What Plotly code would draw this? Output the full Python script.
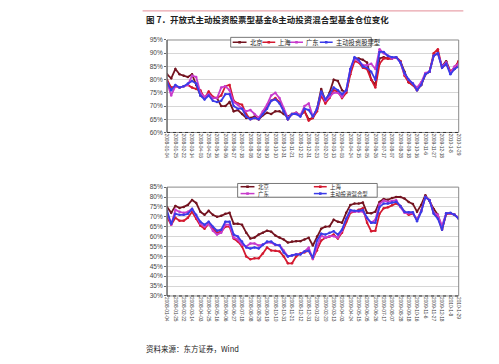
import plotly.graph_objects as go

# ---------------- data ----------------
tick_labels = ["2008-01-04","2008-01-25","2008-02-22","2008-03-14","2008-04-03","2008-04-25",
               "2008-05-16","2008-06-06","2008-06-27","2008-07-18","2008-08-08","2008-08-29",
               "2008-09-19","2008-10-10","2008-10-31","2008-11-21","2008-12-12","2008-12-31",
               "2009-01-23","2009-02-20","2009-03-13","2009-04-03","2009-04-24","2009-05-15",
               "2009-06-05","2009-06-26","2009-07-17","2009-08-07","2009-08-28","2009-09-18",
               "2009-10-16","2009-11-6","2009-11-27","2009-12-18","2010-1-8","2010-1-29"]

series_names_top = ["北京", "上海", "广东", "主动投资股票型"]
series_names_bot = ["北京", "上海", "广东", "主动投资混合型"]

top_beijing = [82,80.5,84,82,81.5,81,82,78,74,73,
               75,73,73,70,70,71.5,68,68.5,67,65.5,
               65.5,66,65,66.5,67.5,67,68,68,67,66,
               67,67.5,66.5,68,65,65.5,69,76.5,72,75,
               80,79.5,76,75,83,88,88,87.5,86.5,80,
               78,88,88.5,88,88,88.5,87,83,79,78,
               76.5,78,82,83,89,90,85,87,83,84,
               87]
top_shanghai = [80,77,77.5,77,77.5,78,77,76.5,76,73,
                75.5,73.5,73,74,77.5,78,72,71,70.5,67,
                65,65.5,65,67,70,72,73,71.5,68,65,
                67,67,66.5,68,64.5,65.5,68,74,71,73,
                76,75.5,73,75,82,87,86.5,84.5,84,80,
                77,86,88,88,88,88.5,87,81.5,79,78,
                76,78,82,83,90,91.5,84.5,86,83,84.5,
                87]
top_guangdong = [79,74,77.5,77,77.5,78,81.5,81,75,73.5,
                 74.5,73,73,77,77.5,76,71.5,70.5,69,68,
                 68.5,67,65.5,68,70.5,74,75,73,69,65.5,
                 67,67.5,66.5,70,71,66,69,75,72,73.5,
                 75,75,73.5,76,84,88,87,85.5,85.5,86,
                 84,91.5,90,89,88,88.5,86.5,82,80,78.5,
                 77,79,82.5,83,89,90,85,86.5,82.5,85,
                 86]
top_stock = [79,76,78,77,77.5,78.5,79.5,78.5,74,72.5,
             74,72,71.5,72,74.5,74.5,70,69,69,66,
             65,65.5,65,67,69,72,72.5,71,68,65,
             67,67,66,69,68.5,66,69,75.5,72.5,74.5,
             77,76,74.5,76,84,88.5,87.5,85,84.5,83,
             80,90.5,90.5,89,88.5,88.5,86.5,82.5,80,78.5,
             76,78,82,83,89,90,84.5,86,82,84,
             85]

bot_beijing = [75,72,75.5,74.5,75,76,78.5,77,72.5,71,
               73,71,70,70.5,71.5,72,66.5,66.5,66,62,
               59,59.5,61,62,63,62.5,60.5,59.5,58.5,57,
               57.5,57.7,57.7,58.5,59.4,55.5,60,64,65,65.2,
               68.5,67.5,67,72,76,76.7,76.7,77.2,72,71.8,
               72.6,77.5,79,78.6,79.5,80,80,79.2,77.5,76.5,
               72.6,76,80.9,78,74,71,64,71.5,71.8,71,
               69.3]
bot_shanghai = [70,66,69.5,68,68,69.5,72.5,69,65.5,64,
                66.5,64,62,62.5,65,65,59,57.5,55,50,
                48.5,49,49,51.5,54.5,53,52.8,52.5,50,46.5,
                46.5,50,51.5,52,52.8,48.7,53,58,59.4,60,
                61,59,62,67.5,72,72.6,73.5,74.3,67,62.7,
                63,71.5,74.3,74.8,75.8,76.7,75.5,72.5,71,71.5,
                68.5,73,80,78.5,72,70,63.5,71.5,71.8,71,
                69.3]
bot_guangdong = [72,66,73.5,72.5,72,72.5,74,70.5,66.5,65,
                 66.5,63,61,62,66,66,59.5,58.5,56,55,
                 56.5,56.5,55.5,56,57,57,55.7,55.8,53,50,
                 50.5,51.1,51.1,52.5,54.4,48.7,55,60.5,59.4,60.2,
                 60.2,59.5,63,69,72.6,72.6,72.6,72.6,69,67,
                 68.5,76.5,78.2,77.6,78,78.4,75,72,71.8,71.8,
                 68.5,73,80,78.4,72,71,65.5,71.8,71.8,71,
                 69.5]
bot_mixed = [73,66.5,71.5,71,71,71.5,74,71,67.5,66,
             67.5,65,63,63.5,67.5,67.5,61,60,57.5,54.5,
             54,54.5,54,56,57.5,57.5,56,55.5,52,50,
             50.5,51,51,52.5,52.8,49.5,58,61.5,61,61.9,
             62.7,61,63.5,69,73.4,73,73,73.4,69.5,67,
             67,75,76.7,76.7,77.2,77.6,75.5,72.5,72.3,72.3,
             67.7,72.5,80,78.4,71.5,69,63.5,71.8,72,71,
             69]

top_ticks = [60, 65, 70, 75, 80, 85, 90, 95]
bot_ticks = [30, 35, 40, 45, 50, 55, 60, 65, 70, 75, 80, 85]

# ---------------- style ----------------
W, H = 499, 364
colors = ["#741420", "#d41a30", "#c83ccc", "#3b3be8"]
CJK = "Noto Sans CJK SC"
LAT = "Liberation Sans"

def px(x):
    return x / W

def py(y):
    return 1 - y / H

fig = go.Figure()

top_series = [top_beijing, top_shanghai, top_guangdong, top_stock]
bot_series = [bot_beijing, bot_shanghai, bot_guangdong, bot_mixed]

for name, vals, c in zip(series_names_top, top_series, colors):
    fig.add_trace(go.Scatter(x=list(range(len(vals))), y=vals, name=name, mode="lines+markers",
                             line=dict(color=c, width=1.8), marker=dict(size=2.5, color=c),
                             xaxis="x", yaxis="y", showlegend=False))
for name, vals, c in zip(series_names_bot, bot_series, colors):
    fig.add_trace(go.Scatter(x=list(range(len(vals))), y=vals, name=name, mode="lines+markers",
                             line=dict(color=c, width=1.8), marker=dict(size=2.5, color=c),
                             xaxis="x2", yaxis="y2", showlegend=False))

n = len(top_beijing)
tickvals = list(range(0, n, 2))

xdom = [px(165.7), px(460.3)]
axis_x = dict(domain=xdom, range=[0, n - 1], tickmode="array", tickvals=tickvals,
              ticktext=tick_labels, tickangle=90, showgrid=False, zeroline=False,
              showline=False, ticks="", tickfont=dict(size=4.8, color="#444", family=LAT))

ytick_font = dict(size=6.5, color="#444", family=LAT)
fig.update_layout(
    width=W, height=H, margin=dict(l=0, r=0, t=0, b=0),
    paper_bgcolor="white", plot_bgcolor="white",
    xaxis=dict(axis_x, anchor="y"),
    xaxis2=dict(axis_x, anchor="y2"),
    yaxis=dict(domain=[py(131), py(36.7)], range=[60, 95], tickmode="array", tickvals=top_ticks,
               ticktext=[f"{v}%" for v in top_ticks], showgrid=True, gridcolor="#d6d6d6",
               gridwidth=1, zeroline=False, showline=False, ticks="outside", ticklen=2,
               tickcolor="#666", tickfont=ytick_font, anchor="x"),
    yaxis2=dict(domain=[py(297.7), py(186.7)], range=[30, 85], tickmode="array", tickvals=bot_ticks,
                ticktext=[f"{v}%" for v in bot_ticks], showgrid=True, gridcolor="#d6d6d6",
                gridwidth=1, zeroline=False, showline=False, ticks="outside", ticklen=2,
                tickcolor="#666", tickfont=ytick_font, anchor="x2"),
    showlegend=False,
)

shapes = []
# pink rule on top
shapes.append(dict(type="line", xref="paper", yref="paper", x0=px(141), x1=px(465),
                   y0=py(7), y1=py(7), line=dict(color="#e9a3ab", width=1.2)))
# frames
for xr, yr in [("x domain", "y domain"), ("x2 domain", "y2 domain")]:
    shapes.append(dict(type="rect", xref=xr, yref=yr, x0=0, x1=1, y0=0, y1=1,
                       line=dict(color="#8a8a8a", width=1), layer="above"))
    shapes.append(dict(type="line", xref=xr, yref=yr, x0=0, x1=0, y0=0, y1=1,
                       line=dict(color="#555", width=1), layer="above"))
    shapes.append(dict(type="line", xref=xr, yref=yr, x0=0, x1=1, y0=0, y1=0,
                       line=dict(color="#333", width=1, dash="dot"), layer="above"))

annotations = []
# legend boxes (manual)
shapes.append(dict(type="rect", xref="paper", yref="paper", x0=px(230), x1=px(372),
                   y0=py(44), y1=py(34), line=dict(color="#555", width=0.8),
                   fillcolor="white", layer="above"))
shapes.append(dict(type="rect", xref="paper", yref="paper", x0=px(237), x1=px(378),
                   y0=py(197), y1=py(183), line=dict(color="#555", width=0.8),
                   fillcolor="white", layer="above"))

def legend_item(x0, x1, y, color, text, tx, size):
    shapes.append(dict(type="line", xref="paper", yref="paper", x0=px(x0), x1=px(x1),
                       y0=py(y), y1=py(y), line=dict(color=color, width=1.5), layer="above"))
    xm = (x0 + x1) / 2
    shapes.append(dict(type="rect", xref="paper", yref="paper", x0=px(xm - 1.3), x1=px(xm + 1.3),
                       y0=py(y + 1.3), y1=py(y - 1.3), line=dict(width=0), fillcolor=color,
                       layer="above"))
    annotations.append(dict(xref="paper", yref="paper", x=px(tx), y=py(y), text=text,
                            showarrow=False, xanchor="left", yanchor="middle",
                            borderpad=0, font=dict(size=size, color="#222", family=CJK)))

top_leg = [(232, 246, 248), (262, 275, 277), (290, 303, 305), (320, 333, 335)]
for (a, b, t), c, nm in zip(top_leg, colors, series_names_top):
    legend_item(a, b, 39, c, nm, t, 6.3)

bot_leg = [(240, 254, 257, 186.3), (314, 327, 329, 186.3),
           (240, 254, 257, 193.3), (314, 327, 329, 193.3)]
for (a, b, t, yy), c, nm in zip(bot_leg, colors, series_names_bot):
    legend_item(a, b, yy, c, nm, t, 5.4)

annotations.append(dict(xref="paper", yref="paper", x=px(142), y=py(15),
                        text="<b>图 7．开放式主动投资股票型基金&主动投资混合型基金仓位变化</b>",
                        showarrow=False, xanchor="left", yanchor="middle",
                        font=dict(size=8.5, color="#222", family=CJK)))
annotations.append(dict(xref="paper", yref="paper", x=px(142), y=py(351),
                        text="资料来源：东方证券，Wind",
                        showarrow=False, xanchor="left", yanchor="middle",
                        font=dict(size=7.5, color="#222", family=CJK)))

fig.update_layout(shapes=shapes, annotations=annotations)
fig.write_html("out.html", config={"displayModeBar": False},
               post_script="document.body.style.margin='0';")
